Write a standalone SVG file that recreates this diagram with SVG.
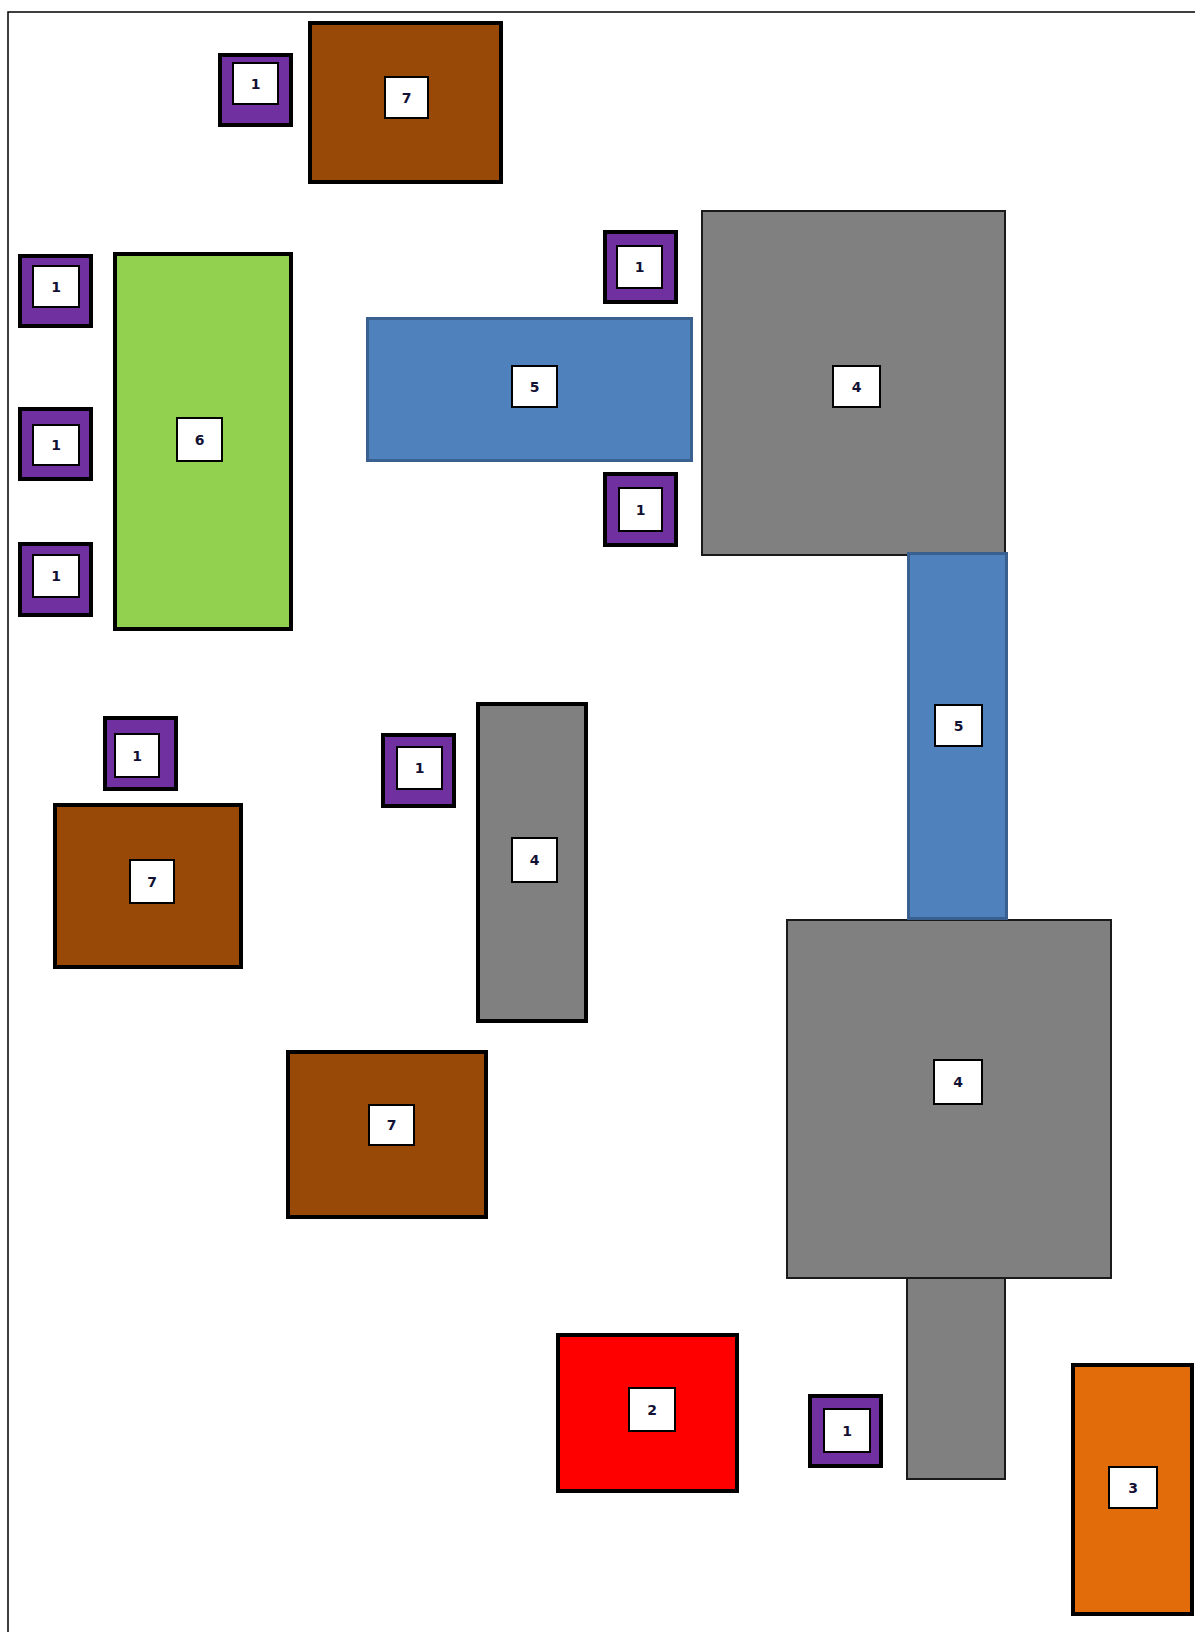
<svg xmlns="http://www.w3.org/2000/svg" width="1195" height="1632" viewBox="0 0 1195 1632">
<style>
.frame{fill:none;stroke:#000;stroke-width:1.5}
.thick{stroke:#000;stroke-width:4}
.thin{stroke:#1a1a1a;stroke-width:2}
.brown{fill:#984807}
.purple{fill:#7030A0}
.green{fill:#92D050}
.gray{fill:#808080}
.red{fill:#FF0000}
.orange{fill:#E36C0A}
.blue{fill:#4F81BD;stroke:#3A6090;stroke-width:3}
.lbl{fill:#fff;stroke:#000;stroke-width:2}
text{font-family:"DejaVu Sans","Liberation Sans",sans-serif;font-weight:bold;font-size:14px;fill:#111133;text-anchor:middle;dominant-baseline:central}
</style>
<rect width="1195" height="1632" fill="#fff"/>
<rect class="frame" x="8" y="12" width="1200" height="1640"/>

<g id="n-gray4-top"><rect class="gray thin" x="702" y="211" width="303" height="344"/><rect class="lbl" x="833" y="366" width="47" height="41"/><text x="856.5" y="386.5">4</text></g>
<g id="n-gray4-big"><rect class="gray thin" x="907" y="1270" width="98" height="209"/><rect class="gray thin" x="787" y="920" width="324" height="358"/><rect class="lbl" x="934" y="1060" width="48" height="44"/><text x="958" y="1082">4</text></g>
<g id="n-blue5-h"><rect class="blue" x="367.5" y="318.5" width="324" height="142"/><rect class="lbl" x="512" y="366" width="45" height="41"/><text x="534.5" y="386.5">5</text></g>
<g id="n-blue5-v"><rect class="blue" x="908.5" y="553.5" width="98" height="365"/><rect class="lbl" x="935" y="705" width="47" height="41"/><text x="958.5" y="725.5">5</text></g>
<g id="n-gray4-col"><rect class="gray thick" x="478" y="704" width="108" height="317"/><rect class="lbl" x="512" y="838" width="45" height="44"/><text x="534.5" y="860">4</text></g>

<g id="n-brown7-top"><rect class="brown thick" x="310" y="23" width="191" height="159"/><rect class="lbl" x="385" y="77" width="43" height="41"/><text x="406.5" y="97.5">7</text></g>
<g id="n-brown7-left"><rect class="brown thick" x="55" y="805" width="186" height="162"/><rect class="lbl" x="130" y="860" width="44" height="43"/><text x="152" y="881.5">7</text></g>
<g id="n-brown7-bottom"><rect class="brown thick" x="288" y="1052" width="198" height="165"/><rect class="lbl" x="369" y="1105" width="45" height="40"/><text x="391.5" y="1125">7</text></g>
<g id="n-green6"><rect class="green thick" x="115" y="254" width="176" height="375"/><rect class="lbl" x="177" y="418" width="45" height="43"/><text x="199.5" y="439.5">6</text></g>
<g id="n-red2"><rect class="red thick" x="558" y="1335" width="179" height="156"/><rect class="lbl" x="629" y="1388" width="46" height="43"/><text x="652" y="1409.5">2</text></g>
<g id="n-orange3"><rect class="orange thick" x="1073" y="1365" width="119" height="249"/><rect class="lbl" x="1109" y="1467" width="48" height="41"/><text x="1133" y="1487.5">3</text></g>

<g id="n-p1-a"><rect class="purple thick" x="220" y="55" width="71" height="70"/><rect class="lbl" x="233" y="63" width="45" height="41"/><text x="255.5" y="83.5">1</text></g>
<g id="n-p1-b"><rect class="purple thick" x="20" y="256" width="71" height="70"/><rect class="lbl" x="33" y="266" width="46" height="41"/><text x="56" y="286.5">1</text></g>
<g id="n-p1-c"><rect class="purple thick" x="20" y="409" width="71" height="70"/><rect class="lbl" x="33" y="425" width="46" height="40"/><text x="56" y="445">1</text></g>
<g id="n-p1-d"><rect class="purple thick" x="20" y="544" width="71" height="71"/><rect class="lbl" x="33" y="555" width="46" height="42"/><text x="56" y="576">1</text></g>
<g id="n-p1-e"><rect class="purple thick" x="605" y="232" width="71" height="70"/><rect class="lbl" x="617" y="246" width="45" height="42"/><text x="639.5" y="267">1</text></g>
<g id="n-p1-f"><rect class="purple thick" x="605" y="474" width="71" height="71"/><rect class="lbl" x="619" y="488" width="43" height="43"/><text x="640.5" y="509.5">1</text></g>
<g id="n-p1-g"><rect class="purple thick" x="105" y="718" width="71" height="71"/><rect class="lbl" x="115" y="734" width="44" height="43"/><text x="137" y="755.5">1</text></g>
<g id="n-p1-h"><rect class="purple thick" x="383" y="735" width="71" height="71"/><rect class="lbl" x="397" y="747" width="45" height="42"/><text x="419.5" y="768">1</text></g>
<g id="n-p1-i"><rect class="purple thick" x="810" y="1396" width="71" height="70"/><rect class="lbl" x="824" y="1409" width="46" height="43"/><text x="847" y="1430.5">1</text></g>

<g id="connectors"></g>
</svg>
